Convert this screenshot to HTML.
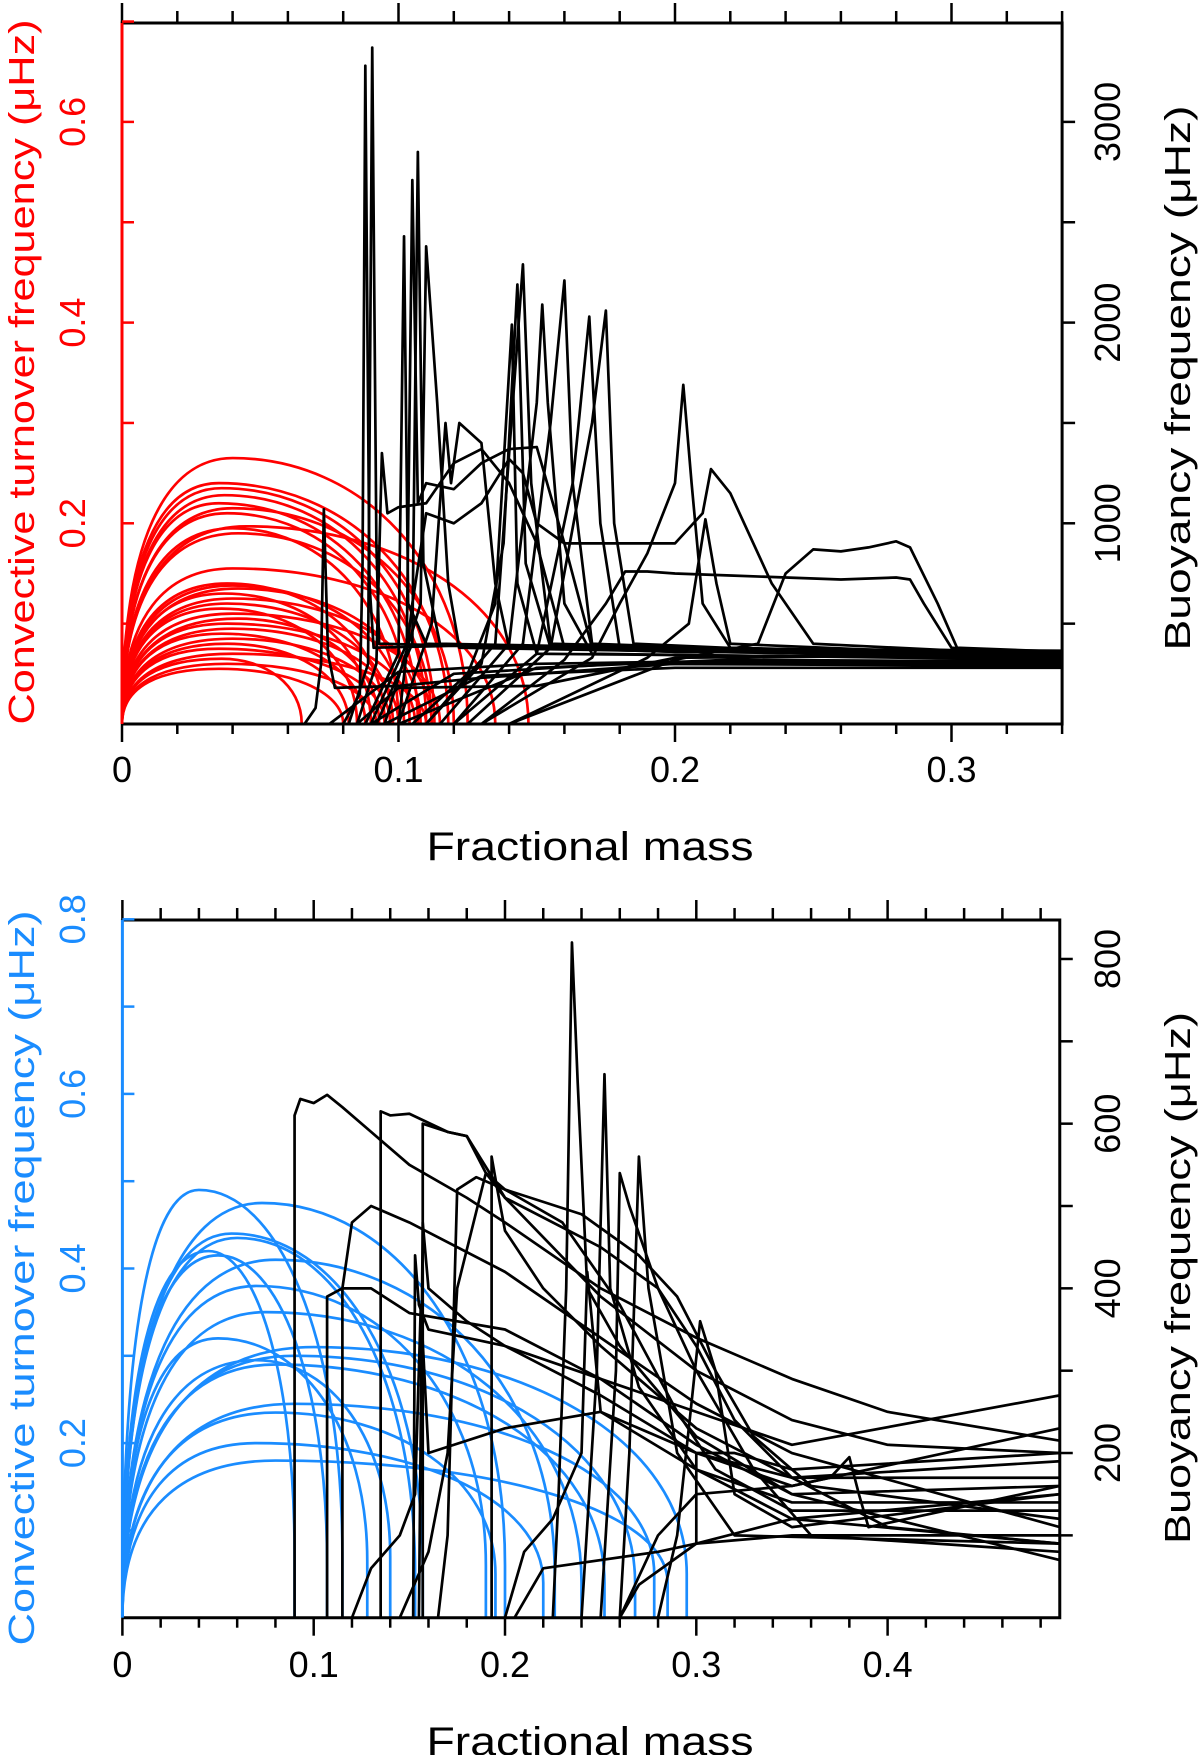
<!DOCTYPE html>
<html><head><meta charset="utf-8"><style>
html,body{margin:0;padding:0;background:#fff;}
svg{display:block;}
text{font-family:"Liberation Sans",sans-serif;}
</style></head><body>
<svg id="fig" width="1200" height="1755" viewBox="0 0 1200 1755" xmlns="http://www.w3.org/2000/svg">
<g id="top"></g>
<g id="bot"></g>
</svg>
<script>
// ---- Top panel data ----
const redPeak = [0.265,0.24,0.235,0.228,0.22,0.215,0.21,0.197,0.195,0.19,0.155,0.14,0.138,0.135,0.13,0.125,0.12,0.115,0.11,0.105,0.1,0.095,0.09,0.085,0.08,0.075,0.07,0.065,0.06,0.055];
const redPeakX = [0.04,0.035,0.036,0.037,0.035,0.04,0.038,0.045,0.04,0.042,0.04,0.038,0.04,0.042,0.037,0.04,0.038,0.036,0.04,0.042,0.038,0.04,0.036,0.04,0.038,0.035,0.04,0.036,0.038,0.035];
const redEnd = [0.125,0.118,0.113,0.11,0.107,0.12,0.104,0.147,0.1,0.112,0.135,0.095,0.102,0.108,0.09,0.112,0.098,0.085,0.115,0.093,0.106,0.1,0.088,0.097,0.082,0.095,0.11,0.065,0.092,0.08];
const topBlack = [
 [[0.066,0],[0.07,80],[0.072,300],[0.073,1070],[0.0745,350],[0.077,180],[0.1,190],[0.13,230],[0.2,300],[0.34,320]],
 [[0.08,0],[0.086,150],[0.087,800],[0.088,3280],[0.0895,700],[0.091,380],[0.12,390],[0.2,360],[0.34,350]],
 [[0.082,0],[0.089,300],[0.0905,3370],[0.092,900],[0.093,400],[0.15,380],[0.34,365]],
 [[0.085,0],[0.092,300],[0.094,1350],[0.096,1050],[0.1,1080],[0.11,1100],[0.12,1300],[0.13,1370],[0.14,1200],[0.15,900],[0.16,380],[0.34,350]],
 [[0.088,0],[0.1,350],[0.102,2430],[0.1035,600],[0.11,400],[0.2,360],[0.34,345]],
 [[0.09,0],[0.103,400],[0.105,2710],[0.107,1100],[0.11,1200],[0.12,1170],[0.13,1300],[0.14,1370],[0.15,1380],[0.16,900],[0.17,380],[0.34,355]],
 [[0.092,0],[0.105,400],[0.107,2850],[0.109,800],[0.115,400],[0.34,340]],
 [[0.095,0],[0.108,600],[0.11,2380],[0.114,1600],[0.118,700],[0.122,380],[0.34,330]],
 [[0.1,0],[0.112,500],[0.117,1500],[0.119,1200],[0.122,1500],[0.13,1400],[0.135,700],[0.14,380],[0.34,340]],
 [[0.1,0],[0.105,600],[0.11,1050],[0.12,1000],[0.13,1100],[0.14,1320],[0.145,1250],[0.15,1000],[0.16,900],[0.2,900],[0.21,1050],[0.213,1270],[0.22,1150],[0.235,700],[0.25,400],[0.34,340]],
 [[0.105,0],[0.125,250],[0.135,600],[0.141,1990],[0.143,700],[0.15,350],[0.34,325]],
 [[0.11,0],[0.13,300],[0.138,900],[0.143,2190],[0.146,800],[0.155,380],[0.34,330]],
 [[0.11,0],[0.135,400],[0.145,2290],[0.148,1200],[0.155,400],[0.34,335]],
 [[0.115,0],[0.14,400],[0.15,1600],[0.152,2090],[0.154,1600],[0.16,600],[0.17,350],[0.34,320]],
 [[0.12,0],[0.145,400],[0.155,1500],[0.16,2210],[0.163,1200],[0.17,400],[0.34,315]],
 [[0.12,0],[0.15,350],[0.163,1200],[0.169,2030],[0.173,1000],[0.18,380],[0.34,310]],
 [[0.125,0],[0.155,380],[0.17,1500],[0.175,2060],[0.178,1000],[0.185,400],[0.34,305]],
 [[0.13,0],[0.16,320],[0.175,600],[0.182,760],[0.19,760],[0.2,750],[0.22,740],[0.26,720],[0.28,730],[0.285,720],[0.29,600],[0.3,380],[0.34,330]],
 [[0.13,0],[0.17,330],[0.18,600],[0.19,850],[0.2,1200],[0.203,1690],[0.206,1200],[0.21,600],[0.22,380],[0.34,340]],
 [[0.14,0],[0.19,330],[0.205,500],[0.211,1020],[0.215,700],[0.22,400],[0.34,330]],
 [[0.14,0],[0.2,320],[0.23,400],[0.24,750],[0.25,870],[0.26,860],[0.27,880],[0.28,910],[0.285,880],[0.295,600],[0.302,380],[0.34,360]],
 [[0.075,0],[0.1,260],[0.15,300],[0.2,310],[0.34,300]],
 [[0.09,0],[0.12,250],[0.18,300],[0.34,290]],
 [[0.095,0],[0.13,240],[0.2,280],[0.34,280]],
 [[0.1,0],[0.15,280],[0.22,320],[0.34,310]],
 [[0.085,0],[0.1,180],[0.15,190],[0.2,330],[0.34,345]]
];
const topXTicks = ["0","0.1","0.2","0.3"];
const topLTicks = ["0.2","0.4","0.6"];
const topRTicks = ["1000","2000","3000"];

// ---- Bottom panel data ----
const bluePeak = [0.49,0.475,0.44,0.435,0.42,0.415,0.41,0.38,0.35,0.32,0.31,0.30,0.295,0.29,0.245,0.235,0.2,0.18];
const bluePeakX = [0.04,0.073,0.057,0.06,0.045,0.05,0.08,0.07,0.075,0.05,0.1,0.09,0.07,0.08,0.09,0.08,0.07,0.08];
const blueEnd = [0.115,0.2,0.157,0.153,0.09,0.107,0.226,0.19,0.24,0.128,0.295,0.268,0.14,0.252,0.278,0.195,0.22,0.285];
const blueEndY = [0.07,0.06,0.06,0.05,0.07,0.06,0.05,0.06,0.04,0.065,0.05,0.04,0.07,0.04,0.05,0.05,0.04,0.04];
const botBlack = [
 [[0.09,0],[0.09,610],[0.093,630],[0.1,625],[0.107,635],[0.115,620],[0.13,590],[0.15,550],[0.18,510],[0.2,480],[0.25,400],[0.3,340],[0.35,290],[0.4,250],[0.49,215]],
 [[0.135,0],[0.135,615],[0.14,610],[0.15,612],[0.17,590],[0.18,585],[0.2,510],[0.25,390],[0.3,300],[0.35,240],[0.4,210],[0.49,200]],
 [[0.157,0],[0.157,600],[0.17,590],[0.18,585],[0.19,540],[0.2,510],[0.25,450],[0.28,400],[0.3,330],[0.32,240],[0.35,170],[0.4,110],[0.49,90]],
 [[0.165,0],[0.17,100],[0.175,520],[0.185,535],[0.2,520],[0.22,505],[0.24,490],[0.27,440],[0.29,390],[0.31,300],[0.33,220],[0.36,160],[0.49,120]],
 [[0.115,0],[0.115,400],[0.12,480],[0.13,500],[0.15,480],[0.2,420],[0.25,340],[0.3,260],[0.35,200],[0.49,110]],
 [[0.107,0],[0.107,390],[0.115,400],[0.13,400],[0.15,370],[0.2,350],[0.25,290],[0.3,210],[0.35,150],[0.49,70]],
 [[0.225,0],[0.228,150],[0.232,400],[0.235,820],[0.238,650],[0.243,400],[0.26,330],[0.3,220],[0.35,150],[0.49,160]],
 [[0.24,0],[0.248,300],[0.252,660],[0.255,400],[0.27,280],[0.3,180],[0.35,120],[0.49,90]],
 [[0.25,0],[0.258,300],[0.26,540],[0.265,500],[0.28,400],[0.3,300],[0.33,180],[0.36,100],[0.49,80]],
 [[0.26,0],[0.265,200],[0.27,560],[0.275,400],[0.29,200],[0.32,100],[0.49,90]],
 [[0.193,0],[0.193,560],[0.196,520],[0.2,470],[0.22,400],[0.25,330],[0.3,230],[0.35,170],[0.49,190]],
 [[0.152,0],[0.153,440],[0.155,380],[0.16,350],[0.2,330],[0.25,270],[0.3,200],[0.35,160],[0.49,230]],
 [[0.155,0],[0.157,480],[0.16,400],[0.18,360],[0.2,330],[0.25,290],[0.3,250],[0.35,210],[0.49,270]],
 [[0.28,0],[0.29,100],[0.297,250],[0.302,360],[0.31,300],[0.32,150],[0.35,110],[0.49,150]],
 [[0.26,0],[0.28,100],[0.3,150],[0.35,160],[0.37,170],[0.38,195],[0.385,150],[0.39,110],[0.49,160]],
 [[0.12,0],[0.13,60],[0.145,100],[0.153,150],[0.156,380],[0.16,200],[0.2,230],[0.25,250],[0.3,200],[0.35,170],[0.49,170]],
 [[0.2,0],[0.21,80],[0.225,120],[0.24,200],[0.243,420],[0.25,250],[0.3,180],[0.35,140],[0.49,140]],
 [[0.205,0],[0.22,60],[0.28,80],[0.3,90],[0.35,120],[0.49,150]],
 [[0.26,0],[0.27,40],[0.3,90],[0.35,100],[0.49,100]],
 [[0.145,0],[0.16,80],[0.17,200],[0.175,400],[0.19,540],[0.2,520],[0.23,480],[0.26,380],[0.29,250],[0.31,180],[0.35,130],[0.49,130]],
 [[0.3,90],[0.3,200],[0.32,200],[0.35,180],[0.49,200]]
];
const botXTicks = ["0","0.1","0.2","0.3","0.4"];
const botLTicks = ["0.2","0.4","0.6","0.8"];
const botRTicks = ["200","400","600","800"];

const NS="http://www.w3.org/2000/svg";
function mk(tag, parent, attrs){const e=document.createElementNS(NS,tag);for(const k in attrs)e.setAttribute(k,attrs[k]);parent.appendChild(e);return e;}

function panel(g, cfg){
  const X=x=>cfg.x0+x*cfg.xs, YL=v=>cfg.y0-v*cfg.ys, YR=n=>cfg.y0-n*cfg.rs;
  const L=cfg.x0, R=X(cfg.xmax), T=cfg.top, B=cfg.y0;
  const cg=mk('g',g,{});
  
  
  cfg.peak.forEach((p,i)=>{
    const px=cfg.peakX[i], e=cfg.end[i], ey=cfg.endY?cfg.endY[i]:0;
    let d=`M${X(0)},${YL(0)} C${X(0)},${YL(p*0.7)} ${X(px*0.4)},${YL(p)} ${X(px)},${YL(p)} C${X(px+(e-px)*0.55)},${YL(p)} ${X(e)},${YL(ey+(p-ey)*0.6)} ${X(e)},${YL(ey)} L${X(e)},${YL(0)}`;
    const el=mk('path',cg,{d:d,fill:'none',stroke:cfg.color,'stroke-width':2.7});
    
    
  });
  const bg=mk('g',g,{});
  
  
  cfg.black.forEach(c=>{
    const el=mk('polyline',bg,{points:c.map(p=>X(p[0])+','+YR(p[1])).join(' '),fill:'none',stroke:'#000','stroke-width':2.7,'stroke-linejoin':'round'});
    
    
  });
  const fr=mk('path',g,{d:`M${L},${T} H${R} V${B} H${L}`,fill:'none',stroke:'#000','stroke-width':3});
  
  
  const la=mk('line',g,{x1:L,y1:B,x2:L,y2:YL(cfg.lmax),stroke:cfg.color,'stroke-width':3});
  
  
  for(let k=0;k*0.02<=cfg.xmax+1e-9;k++){
    const x=X(k*0.02), maj=k%5==0;
    mk('line',g,{x1:x,y1:B,x2:x,y2:B+(maj?18:10),stroke:'#000','stroke-width':2.5});
    mk('line',g,{x1:x,y1:T,x2:x,y2:T-(maj?20:12),stroke:'#000','stroke-width':2.5});
  }
  cfg.xt.forEach((t,i)=>{
    const el=mk('text',g,{x:X(i*0.1),y:cfg.xly,'text-anchor':'middle','font-size':36});
    el.textContent=t;
    
    
  });
  for(let v=cfg.lstep;v<=cfg.lmax+1e-9;v+=cfg.lstep){
    mk('line',g,{x1:L,y1:YL(v),x2:L+12,y2:YL(v),stroke:cfg.color,'stroke-width':2.5});
  }
  cfg.lt.forEach(t=>{
    const y=YL(parseFloat(t));
    const el=mk('text',g,{x:0,y:0,transform:`translate(${cfg.lLabX},${y}) rotate(-90)`,'text-anchor':'middle','font-size':36,fill:cfg.color});
    el.textContent=t;
    
    
  });
  for(let n=cfg.rstep;YR(n)>=T-1;n+=cfg.rstep){
    mk('line',g,{x1:R,y1:YR(n),x2:R+13,y2:YR(n),stroke:'#000','stroke-width':2.5});
  }
  cfg.rt.forEach(t=>{
    const y=YR(parseFloat(t));
    const el=mk('text',g,{x:0,y:0,transform:`translate(${1120},${y}) rotate(-90)`,'text-anchor':'middle','font-size':36});
    el.textContent=t;
    
    
  });
  const lt=mk('text',g,{x:0,y:0,transform:`translate(34,${cfg.ltc}) rotate(-90)`,'text-anchor':'middle','font-size':36,fill:cfg.color,textLength:cfg.ltl,lengthAdjust:'spacingAndGlyphs'});
  lt.textContent='Convective turnover frequency (\u03bcHz)';
  
  
  const rt=mk('text',g,{x:0,y:0,transform:`translate(1190,${cfg.rtc}) rotate(-90)`,'text-anchor':'middle','font-size':36,textLength:cfg.rtl,lengthAdjust:'spacingAndGlyphs'});
  rt.textContent='Buoyancy frequency (\u03bcHz)';
  
  
  const xt=mk('text',g,{x:590,y:cfg.xty,'text-anchor':'middle','font-size':40,textLength:327,lengthAdjust:'spacingAndGlyphs'});
  xt.textContent='Fractional mass';
  
  
}

panel(document.getElementById('top'),{
  x0:122,xs:2765,xmax:0.34,y0:724,ys:1003.5,rs:1003.5/5000,top:23,lmax:0.7,lstep:0.1,rstep:500,
  color:'#ff0000',cname:'convective-red',peak:redPeak,peakX:redPeakX,end:redEnd,black:topBlack,
  xt:topXTicks,lt:topLTicks,rt:topRTicks,xly:782,lLabX:85,ltc:372,ltl:705,rtc:378,rtl:545,xty:860
});
panel(document.getElementById('bot'),{
  x0:122.4,xs:1913,xmax:0.49,y0:1617.7,ys:873,rs:0.8234,top:920,lmax:0.8,lstep:0.1,rstep:100,
  color:'#1a8cff',cname:'convective-blue',peak:bluePeak,peakX:bluePeakX,end:blueEnd,endY:blueEndY,black:botBlack,
  xt:botXTicks,lt:botLTicks,rt:botRTicks,xly:1677,lLabX:85,ltc:1278,ltl:735,rtc:1278,rtl:532,xty:1755
});
</script>
</body></html>
